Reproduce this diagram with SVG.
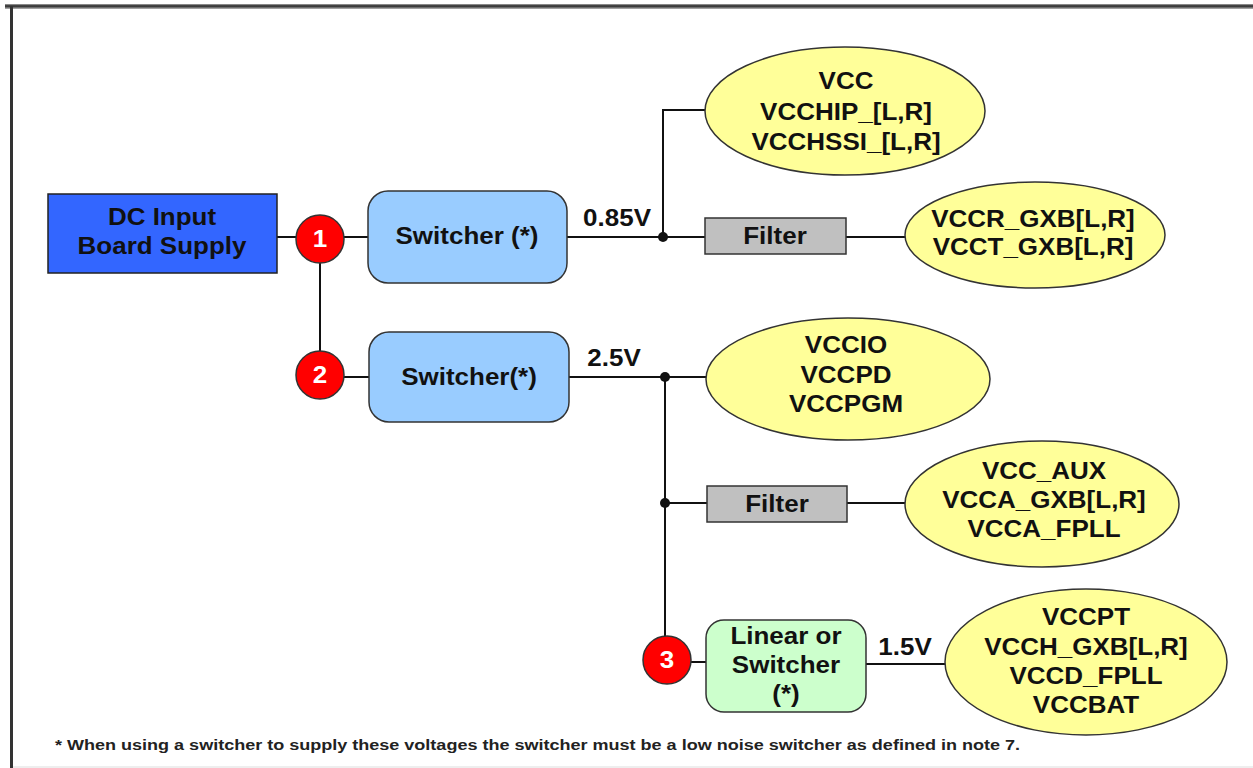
<svg xmlns="http://www.w3.org/2000/svg" width="1253" height="768" viewBox="0 0 1253 768">
<defs>
<style>
.t{font-family:"Liberation Sans",Arial,sans-serif;font-weight:bold;font-size:23px;fill:#111;text-anchor:middle}
.w{fill:#fff}
.ln{stroke:#111;stroke-width:2;fill:none}
.ell{fill:#ffff99;stroke:#333;stroke-width:1.5}
.sw{fill:#99ccff;stroke:#333;stroke-width:1.5}
.flt{fill:#c0c0c0;stroke:#333;stroke-width:1.5}
.num{fill:#ff0000;stroke:#333;stroke-width:1.5}
.dot{fill:#111}
</style>
<linearGradient id="tb" x1="0" y1="0" x2="0" y2="1">
<stop offset="0" stop-color="#aaa"/><stop offset="0.4" stop-color="#222"/><stop offset="1" stop-color="#bbb"/>
</linearGradient>
</defs>
<rect width="1253" height="768" fill="#fff"/>
<g id="frame">
<rect x="5" y="4" width="1248" height="5" fill="url(#tb)"/>
<rect x="10" y="6" width="3" height="762" fill="#333"/>
<line x1="13" y1="767" x2="1253" y2="767" stroke="#ddd" stroke-width="1"/>
</g>
<g id="connectors">
<line class="ln" x1="277" y1="237" x2="296" y2="237"/>
<line class="ln" x1="320" y1="263" x2="320" y2="351"/>
<line class="ln" x1="344" y1="237" x2="368" y2="237"/>
<line class="ln" x1="344" y1="377" x2="369" y2="377"/>
<line class="ln" x1="567" y1="237" x2="706" y2="237"/>
<polyline class="ln" points="663,237 663,110 706,110"/>
<line class="ln" x1="846" y1="237" x2="905" y2="237"/>
<line class="ln" x1="569" y1="377" x2="706" y2="377"/>
<line class="ln" x1="665" y1="377" x2="665" y2="636"/>
<line class="ln" x1="665" y1="503" x2="707" y2="503"/>
<line class="ln" x1="847" y1="503" x2="905" y2="503"/>
<line class="ln" x1="691" y1="662" x2="706" y2="662"/>
<line class="ln" x1="866" y1="664" x2="945" y2="664"/>
<circle class="dot" cx="663" cy="237" r="5"/>
<circle class="dot" cx="665" cy="377" r="5"/>
<circle class="dot" cx="665" cy="503" r="5"/>
<g transform="translate(617,226) scale(1.13,1)"><text class="t">0.85V</text></g>
<g transform="translate(614,366) scale(1.13,1)"><text class="t">2.5V</text></g>
<g transform="translate(905,655) scale(1.13,1)"><text class="t">1.5V</text></g>
</g>
<g id="dc-input">
<rect x="48" y="194" width="229" height="79" fill="#3366ff" stroke="#222" stroke-width="1.5"/>
<g transform="translate(162,0) scale(1.13,1)"><text class="t" y="225">DC Input</text><text class="t" y="254">Board Supply</text></g>
</g>
<g id="n1"><circle class="num" cx="320" cy="239" r="24"/><g transform="translate(320,247) scale(1.13,1)"><text class="t w">1</text></g></g>
<g id="n2"><circle class="num" cx="320" cy="375" r="24"/><g transform="translate(320,383) scale(1.13,1)"><text class="t w">2</text></g></g>
<g id="n3"><circle class="num" cx="667" cy="660" r="24"/><g transform="translate(667,668) scale(1.13,1)"><text class="t w">3</text></g></g>
<g id="switcher1">
<rect class="sw" x="368" y="191" width="199" height="92" rx="20"/>
<g transform="translate(467,244) scale(1.13,1)"><text class="t">Switcher (*)</text></g>
</g>
<g id="switcher2">
<rect class="sw" x="369" y="332" width="200" height="90" rx="20"/>
<g transform="translate(469,385) scale(1.13,1)"><text class="t">Switcher(*)</text></g>
</g>
<g id="filter1">
<rect class="flt" x="705" y="218" width="141" height="36"/>
<g transform="translate(775,244) scale(1.13,1)"><text class="t">Filter</text></g>
</g>
<g id="filter2">
<rect class="flt" x="707" y="486" width="140" height="36"/>
<g transform="translate(777,512) scale(1.13,1)"><text class="t">Filter</text></g>
</g>
<g id="linear">
<rect x="706" y="620" width="160" height="92" rx="18" fill="#ccffcc" stroke="#333" stroke-width="1.5"/>
<g transform="translate(786,0) scale(1.13,1)"><text class="t" y="644">Linear or</text><text class="t" y="673">Switcher</text><text class="t" y="702">(*)</text></g>
</g>
<g id="vcc">
<ellipse class="ell" cx="845" cy="111" rx="140" ry="64"/>
<g transform="translate(846,0) scale(1.13,1)"><text class="t" y="89">VCC</text><text class="t" y="120">VCCHIP_[L,R]</text><text class="t" y="150">VCCHSSI_[L,R]</text></g>
</g>
<g id="vccr">
<ellipse class="ell" cx="1035" cy="235" rx="130" ry="53"/>
<g transform="translate(1033,0) scale(1.13,1)"><text class="t" y="227">VCCR_GXB[L,R]</text><text class="t" y="255">VCCT_GXB[L,R]</text></g>
</g>
<g id="vccio">
<ellipse class="ell" cx="848" cy="379" rx="142" ry="61"/>
<g transform="translate(846,0) scale(1.13,1)"><text class="t" y="353">VCCIO</text><text class="t" y="383">VCCPD</text><text class="t" y="412">VCCPGM</text></g>
</g>
<g id="vccaux">
<ellipse class="ell" cx="1042" cy="504" rx="137" ry="63"/>
<g transform="translate(1044,0) scale(1.13,1)"><text class="t" y="479">VCC_AUX</text><text class="t" y="508">VCCA_GXB[L,R]</text><text class="t" y="537">VCCA_FPLL</text></g>
</g>
<g id="vccpt">
<ellipse class="ell" cx="1086" cy="662" rx="141" ry="73"/>
<g transform="translate(1086,0) scale(1.13,1)"><text class="t" y="625">VCCPT</text><text class="t" y="655">VCCH_GXB[L,R]</text><text class="t" y="684">VCCD_FPLL</text><text class="t" y="713">VCCBAT</text></g>
</g>
<g id="footnote">
<text x="55" y="750" font-family="Liberation Sans, Arial, sans-serif" font-weight="bold" font-size="14" fill="#222" textLength="965" lengthAdjust="spacingAndGlyphs">* When using a switcher to supply these voltages the switcher must be a low noise switcher as defined in note 7.</text>
</g>
</svg>
